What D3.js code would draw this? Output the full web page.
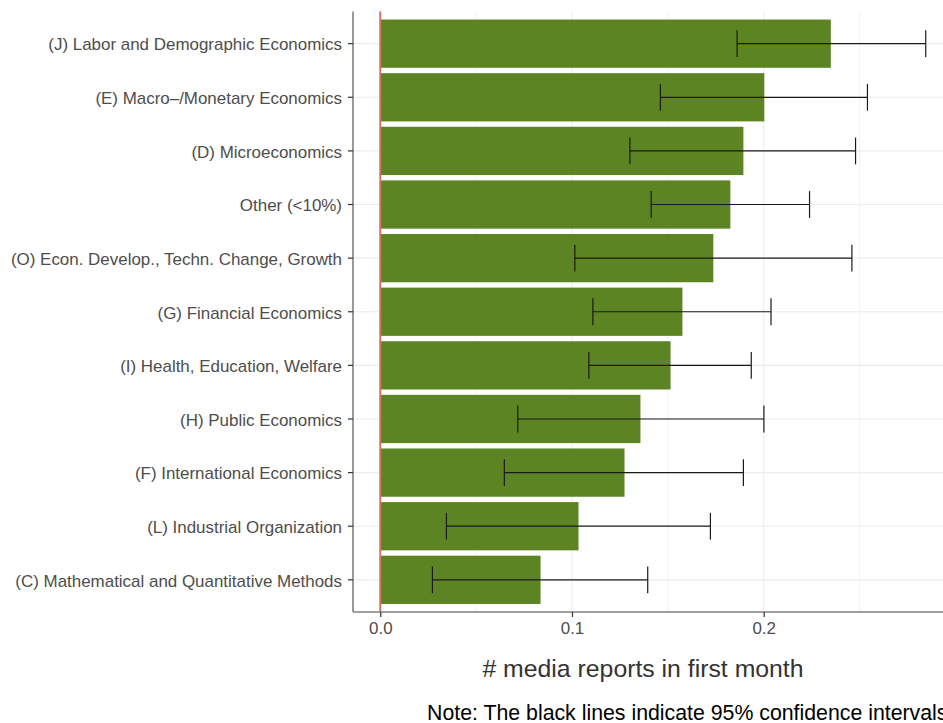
<!DOCTYPE html>
<html>
<head>
<meta charset="utf-8">
<script src="https://cdn.jsdelivr.net/npm/d3@7/dist/d3.min.js"></script>
<style>
  html, body { margin: 0; padding: 0; background: #ffffff; }
  svg { display: block; font-family: "Liberation Sans", Arial, Helvetica, sans-serif; }
</style>
</head>
<body>
<svg id="chart" width="943" height="723"></svg>
<script>
// JEL field categories, top to bottom
const categories = [
  "(J) Labor and Demographic Economics",
  "(E) Macro\u2013/Monetary Economics",
  "(D) Microeconomics",
  "Other (<10%)",
  "(O) Econ. Develop., Techn. Change, Growth",
  "(G) Financial Economics",
  "(I) Health, Education, Welfare",
  "(H) Public Economics",
  "(F) International Economics",
  "(L) Industrial Organization",
  "(C) Mathematical and Quantitative Methods"
];
// mean number of media reports in the first month
const means  = [0.2350, 0.2003, 0.1894, 0.1826, 0.1737, 0.1576, 0.1514, 0.1357, 0.1274, 0.1034, 0.0836];
// 95% confidence interval bounds
const ciLow  = [0.1861, 0.1461, 0.1302, 0.1413, 0.1015, 0.1109, 0.1088, 0.0717, 0.0647, 0.0345, 0.0272];
const ciHigh = [0.2845, 0.2541, 0.2479, 0.2239, 0.2460, 0.2038, 0.1935, 0.2001, 0.1894, 0.1722, 0.1395];
const xTicks = [0, 0.1, 0.2];
const xMinorTicks = [0.05, 0.15, 0.25];

const rows = categories.map((c, i) => ({ cat: c, mean: means[i], lo: ciLow[i], hi: ciHigh[i] }));

const svg = d3.select("#chart");
const panel = { left: 353, right: 953, top: 11.5, bottom: 612 };

// continuous axis with 5% expansion on both sides
const xMax = d3.max(ciHigh);
const pad = xMax * 0.05;
const x = d3.scaleLinear().domain([-pad, xMax + pad]).range([panel.left, panel.right]);

const y = d3.scaleBand()
  .domain(categories)
  .range([panel.top, panel.bottom])
  .paddingInner(0.1)
  .paddingOuter(0.15);

const bw = y.bandwidth();
const cy = d => y(d) + bw / 2;

// grid
const grid = svg.append("g");
grid.selectAll("line.minor").data(xMinorTicks).join("line")
  .attr("x1", d => x(d)).attr("x2", d => x(d))
  .attr("y1", panel.top).attr("y2", panel.bottom)
  .attr("stroke", "#f4f4f4").attr("stroke-width", 1);
grid.selectAll("line.majorx").data(xTicks).join("line")
  .attr("x1", d => x(d)).attr("x2", d => x(d))
  .attr("y1", panel.top).attr("y2", panel.bottom)
  .attr("stroke", "#ececec").attr("stroke-width", 1.1);
grid.selectAll("line.majory").data(categories).join("line")
  .attr("x1", panel.left).attr("x2", panel.right)
  .attr("y1", d => cy(d)).attr("y2", d => cy(d))
  .attr("stroke", "#ececec").attr("stroke-width", 1.1);

// bars
svg.append("g").selectAll("rect").data(rows).join("rect")
  .attr("x", x(0))
  .attr("y", d => y(d.cat))
  .attr("width", d => x(d.mean) - x(0))
  .attr("height", bw)
  .attr("fill", "#5d8423");

// zero reference line
svg.append("line")
  .attr("x1", x(0)).attr("x2", x(0))
  .attr("y1", panel.top).attr("y2", panel.bottom)
  .attr("stroke", "#d2745c").attr("stroke-width", 2);

// confidence interval whiskers
const eb = svg.append("g").attr("stroke", "#1a1a1a").attr("stroke-width", 1.2).attr("fill", "none");
const capH = y.step() * 0.5;
eb.selectAll("line.h").data(rows).join("line")
  .attr("x1", d => x(d.lo)).attr("x2", d => x(d.hi))
  .attr("y1", d => cy(d.cat)).attr("y2", d => cy(d.cat));
eb.selectAll("line.l").data(rows).join("line")
  .attr("x1", d => x(d.lo)).attr("x2", d => x(d.lo))
  .attr("y1", d => cy(d.cat) - capH / 2).attr("y2", d => cy(d.cat) + capH / 2);
eb.selectAll("line.r").data(rows).join("line")
  .attr("x1", d => x(d.hi)).attr("x2", d => x(d.hi))
  .attr("y1", d => cy(d.cat) - capH / 2).attr("y2", d => cy(d.cat) + capH / 2);

// axes
const yAxis = svg.append("g")
  .attr("transform", `translate(${panel.left},0)`)
  .call(d3.axisLeft(y).tickSize(5).tickPadding(6));
const xAxis = svg.append("g")
  .attr("transform", `translate(0,${panel.bottom})`)
  .call(d3.axisBottom(x).tickValues(xTicks).tickFormat(d3.format(".1f")).tickSize(5).tickPadding(5));

[yAxis, xAxis].forEach(a => {
  a.select(".domain").attr("stroke", "#808080").attr("stroke-width", 1.6);
  a.selectAll(".tick line").attr("stroke", "#333333").attr("stroke-width", 1.2);
  a.selectAll(".tick text")
    .attr("fill", "#4d4d4d")
    .style("font-size", "16.95px")
    .style("font-family", "'Liberation Sans', Arial, sans-serif");
});
yAxis.selectAll(".tick text").attr("dy", "0.4em");
// plain axis lines without end ticks
yAxis.select(".domain").attr("d", `M0,${panel.top}V${panel.bottom}`);
xAxis.select(".domain").attr("d", `M${panel.left},0H${panel.right}`);

// axis title
svg.append("text")
  .attr("x", 643).attr("y", 677)
  .attr("text-anchor", "middle")
  .attr("fill", "#333333")
  .style("font-size", "24.8px")
  .text("# media reports in first month");

// caption
svg.append("text")
  .attr("x", 427).attr("y", 720)
  .attr("fill", "#000000")
  .style("font-size", "21.3px")
  .text("Note: The black lines indicate 95% confidence intervals.");
</script>
</body>
</html>
